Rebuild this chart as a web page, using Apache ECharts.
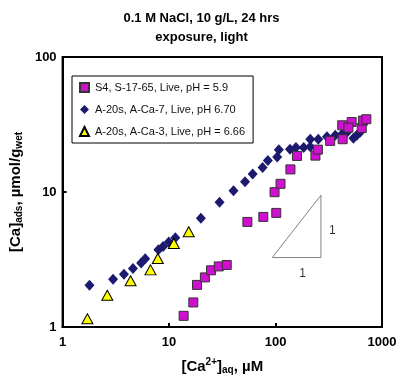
<!DOCTYPE html>
<html>
<head>
<meta charset="utf-8">
<script src="https://cdn.jsdelivr.net/npm/echarts@6/dist/echarts.min.js"></script>
<style>
html,body{margin:0;padding:0;background:#fff;}
#c{width:403px;height:382px;}
</style>
</head>
<body>
<div id="c"></div>
<script>
// ---- data ----
var titleLines = ['0.1 M NaCl, 10 g/L, 24 hrs', 'exposure, light'];
var seriesNames = ['S4, S-17-65, Live, pH = 5.9', 'A-20s, A-Ca-7, Live, pH 6.70', 'A-20s, A-Ca-3, Live, pH = 6.66'];
var xTicks = [1, 10, 100, 1000];
var yTicks = [1, 10, 100];

// S4 (magenta squares): [Ca2+]aq, [Ca]ads
var s4X = [13.7, 16.9, 18.3, 21.7, 24.8, 29.3, 34.8, 54.4, 76.8, 101.6, 97.9, 111.4, 138, 159, 237, 250, 326, 427, 423, 519, 484, 646, 664, 713];
var s4Y = [1.21, 1.52, 2.05, 2.33, 2.63, 2.81, 2.88, 6.00, 6.54, 7.00, 9.97, 11.5, 14.7, 18.5, 18.6, 20.6, 23.9, 24.6, 31.2, 33.0, 30.0, 29.8, 33.8, 34.6];

// A-Ca-7 (navy diamonds)
var ca7X = [1.79, 2.98, 3.77, 4.58, 5.47, 5.97, 7.94, 8.79, 9.94, 11.45, 19.9, 29.8, 40.3, 51.7, 61.0, 75.6, 84.7, 103.7, 107.4, 136.7, 155.5, 183.8, 212, 212, 252, 304, 364, 420, 468, 539, 580, 623];
var ca7Y = [2.04, 2.26, 2.46, 2.71, 2.98, 3.20, 3.74, 3.95, 4.26, 4.59, 6.39, 8.40, 10.2, 11.9, 13.6, 15.2, 17.1, 18.2, 20.6, 20.7, 21.4, 21.4, 21.6, 24.6, 24.6, 25.7, 26.3, 26.8, 27.6, 25.0, 26.3, 27.7];

// A-Ca-3 (yellow triangles)
var ca3X = [1.71, 2.63, 4.35, 6.69, 7.84, 11.1, 15.3];
var ca3Y = [1.15, 1.72, 2.20, 2.65, 3.22, 4.16, 5.08];

// slope-1 guide triangle and its labels
var guideX = [93.1, 267, 267, 93.1];
var guideY = [3.27, 3.27, 9.47, 3.27];
var guideLabelX = [341, 180];
var guideLabelY = [5.17, 2.48];
var guideLabelText = ['1', '1'];

function zip(xs, ys) { return xs.map(function (x, i) { return [x, ys[i]]; }); }

var FONT = '"Liberation Sans", Arial, Helvetica, sans-serif';
var chart = echarts.init(document.getElementById('c'), null, {renderer: 'canvas'});

var option = {
  backgroundColor: '#ffffff',
  animation: false,
  title: {
    text: titleLines.join('\n'),
    left: 'center',
    top: 4,
    textStyle: {fontFamily: FONT, fontSize: 13, fontWeight: 'bold', color: '#000', lineHeight: 19}
  },
  grid: {
    left: 61, right: 21, top: 57, bottom: 55,
    show: true, borderColor: '#000', borderWidth: 2, backgroundColor: '#fff'
  },
  legend: {
    data: seriesNames,
    orient: 'vertical',
    left: 72, top: 76,
    width: 181,
    padding: [6, 8, 6, 7],
    itemGap: 11,
    itemWidth: 9, itemHeight: 9,
    backgroundColor: '#fff',
    borderColor: '#000', borderWidth: 1,
    textStyle: {fontFamily: FONT, fontSize: 11, color: '#111', padding: [0, 7, 0, 1]}
  },
  xAxis: {
    type: 'log', logBase: 10, min: 1, max: 1000,
    name: '[Ca{sup|2+}]{sub|aq}, µM',
    nameLocation: 'middle', nameGap: 30,
    nameTextStyle: {
      fontFamily: FONT, fontSize: 15, fontWeight: 'bold', color: '#000',
      rich: {
        sup: {fontFamily: FONT, fontSize: 10, fontWeight: 'bold', color: '#000', padding: [0, 0, 9, 0]},
        sub: {fontFamily: FONT, fontSize: 10, fontWeight: 'bold', color: '#000', padding: [7, 0, 0, 0]}
      }
    },
    axisLine: {show: true, lineStyle: {color: '#000', width: 2}},
    axisTick: {show: true, inside: true, length: 4, lineStyle: {color: '#000', width: 2}},
    minorTick: {show: false},
    splitLine: {show: false},
    axisLabel: {
      fontFamily: FONT, fontSize: 13, fontWeight: 'bold', color: '#000', margin: 9,
      formatter: function (v) { return xTicks.indexOf(Math.round(v)) >= 0 ? String(Math.round(v)) : ''; }
    }
  },
  yAxis: {
    type: 'log', logBase: 10, min: 1, max: 100,
    name: '[Ca]{sub|ads}, µmol/g{sub|wet}',
    nameLocation: 'middle', nameGap: 37, nameRotate: 90,
    nameTextStyle: {
      fontFamily: FONT, fontSize: 15, fontWeight: 'bold', color: '#000',
      rich: {
        sub: {fontFamily: FONT, fontSize: 10, fontWeight: 'bold', color: '#000', padding: [7, 0, 0, 0]}
      }
    },
    axisLine: {show: true, lineStyle: {color: '#000', width: 2}},
    axisTick: {show: true, inside: true, length: 4, lineStyle: {color: '#000', width: 2}},
    minorTick: {show: false},
    splitLine: {show: false},
    axisLabel: {
      fontFamily: FONT, fontSize: 13, fontWeight: 'bold', color: '#000', margin: 6,
      formatter: function (v) { return yTicks.indexOf(Math.round(v)) >= 0 ? String(Math.round(v)) : ''; }
    }
  },
  series: [
    {
      name: 'guide', type: 'line', data: zip(guideX, guideY),
      symbol: 'none', silent: true, z: 1,
      lineStyle: {color: '#808080', width: 1}
    },
    {
      name: 'guideLabels', type: 'scatter', data: zip(guideLabelX, guideLabelY),
      symbolSize: 1, itemStyle: {color: 'rgba(0,0,0,0)'}, silent: true,
      label: {show: true, position: 'inside', fontFamily: FONT, fontSize: 12, color: '#000',
        formatter: function (p) { return guideLabelText[p.dataIndex]; }}
    },
    {
      name: seriesNames[1], type: 'scatter', data: zip(ca7X, ca7Y),
      symbol: 'diamond', symbolSize: [10, 11], z: 3,
      itemStyle: {color: '#1b1a6e', borderColor: '#1b1a6e', borderWidth: 0, opacity: 1}
    },
    {
      name: seriesNames[0], type: 'scatter', data: zip(s4X, s4Y),
      symbol: 'rect', symbolSize: 9, z: 4,
      itemStyle: {color: '#d10fd1', borderColor: '#333', borderWidth: 1, opacity: 1}
    },
    {
      name: seriesNames[2], type: 'scatter', data: zip(ca3X, ca3Y),
      symbol: 'triangle', symbolSize: [11, 10], z: 5,
      itemStyle: {color: '#ffff00', borderColor: '#000', borderWidth: 1, opacity: 1}
    }
  ]
};
chart.setOption(option);
</script>
</body>
</html>
